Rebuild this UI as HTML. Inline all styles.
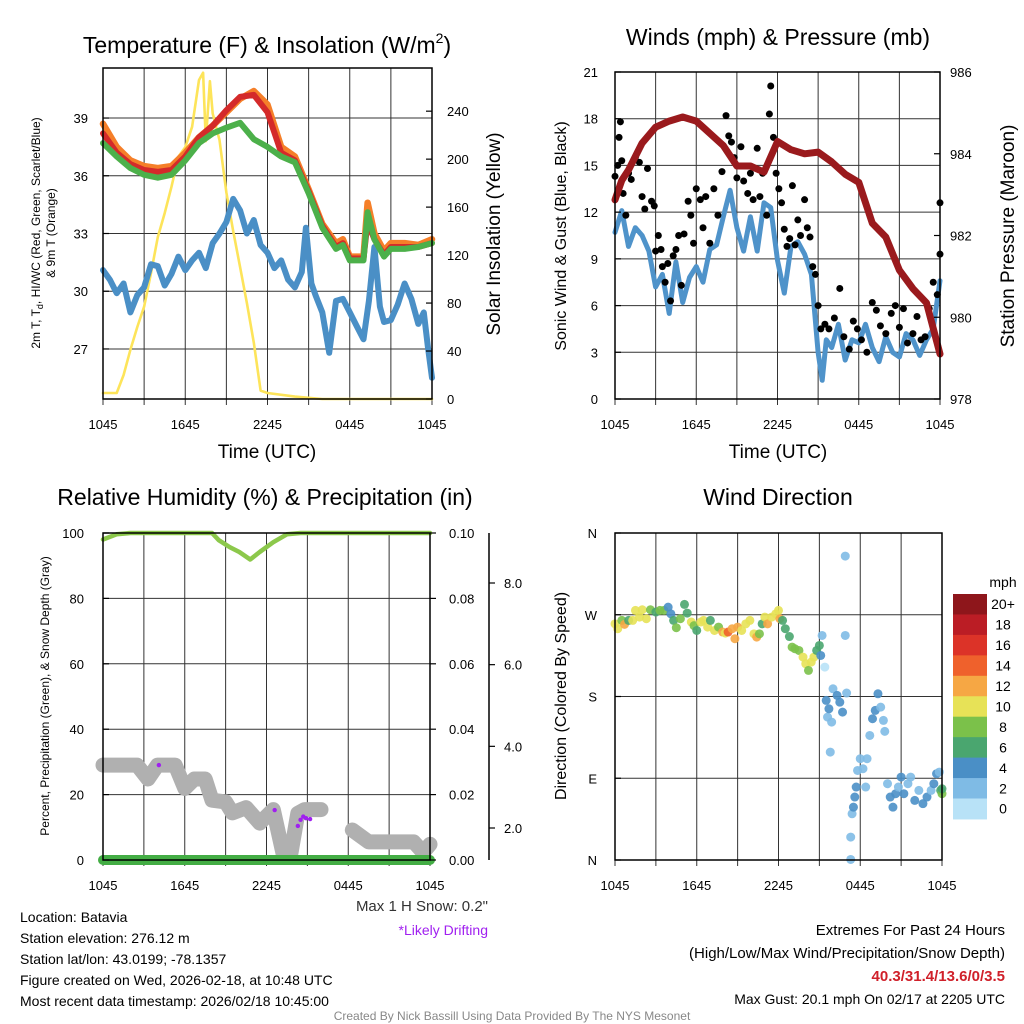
<!DOCTYPE html>
<html><head><meta charset="utf-8"><style>
html,body{margin:0;padding:0;background:#fff}
svg{display:block;font-family:"Liberation Sans",Arial,sans-serif}
</style></head><body>
<svg id="c" width="1024" height="1024" viewBox="0 0 1024 1024" xmlns="http://www.w3.org/2000/svg">
<rect width="1024" height="1024" fill="#fff"/>
<text x="267" y="53" font-size="23" text-anchor="middle">Temperature (F) &amp; Insolation (W/m<tspan font-size="14" dy="-10">2</tspan><tspan dy="10">)</tspan></text>
<text x="778" y="45" font-size="23" text-anchor="middle">Winds (mph) &amp; Pressure (mb)</text>
<text x="265" y="505" font-size="23" text-anchor="middle">Relative Humidity (%) &amp; Precipitation (in)</text>
<text x="778" y="505" font-size="23" text-anchor="middle">Wind Direction</text>
<text x="267" y="458" font-size="19" text-anchor="middle">Time (UTC)</text>
<text x="778" y="458" font-size="19" text-anchor="middle">Time (UTC)</text>
<text transform="translate(40,233) rotate(-90)" font-size="12" text-anchor="middle">2m T, T<tspan font-size="9" dy="3">d</tspan><tspan dy="-3">, HI/WC (Red, Green, Scarlet/Blue)</tspan></text>
<text transform="translate(55,233) rotate(-90)" font-size="12" text-anchor="middle">&amp; 9m T (Orange)</text>
<text transform="translate(500,234) rotate(-90)" font-size="19" text-anchor="middle">Solar Insolation (Yellow)</text>
<text transform="translate(566,236) rotate(-90)" font-size="16" text-anchor="middle">Sonic Wind &amp; Gust (Blue, Black)</text>
<text transform="translate(1014,236) rotate(-90)" font-size="19" text-anchor="middle">Station Pressure (Maroon)</text>
<text transform="translate(49,696) rotate(-90)" font-size="12" text-anchor="middle">Percent, Precipitation (Green), &amp; Snow Depth (Gray)</text>
<text transform="translate(566,696) rotate(-90)" font-size="16" text-anchor="middle">Direction (Colored By Speed)</text>
<text x="488" y="911" font-size="15" text-anchor="end" fill="#333">Max 1 H Snow: 0.2"</text>
<text x="488" y="935" font-size="14" text-anchor="end" fill="#a020f0">*Likely Drifting</text>
<g font-size="14" fill="#000">
<text x="20" y="922">Location: Batavia</text>
<text x="20" y="943">Station elevation: 276.12 m</text>
<text x="20" y="964">Station lat/lon: 43.0199; -78.1357</text>
<text x="20" y="985">Figure created on Wed, 2026-02-18, at 10:48 UTC</text>
<text x="20" y="1006">Most recent data timestamp: 2026/02/18 10:45:00</text>
</g>
<g font-size="15" text-anchor="end">
<text x="1005" y="935">Extremes For Past 24 Hours</text>
<text x="1005" y="958">(High/Low/Max Wind/Precipitation/Snow Depth)</text>
<text x="1005" y="981" fill="#d0202a" font-weight="bold">40.3/31.4/13.6/0/3.5</text>
<text x="1005" y="1004" font-size="14">Max Gust: 20.1 mph On 02/17 at 2205 UTC</text>
</g>
<text x="512" y="1020" font-size="12" fill="#888" text-anchor="middle">Created By Nick Bassill Using Data Provided By The NYS Mesonet</text>
<text x="1003" y="587" font-size="14" text-anchor="middle">mph</text>
</svg>
<script>
const xTickLabels = ["1045","1645","2245","0445","1045"];
const tTimes = [0,1,2,3,4,5,6,7,8,9,10,11,12,13,14,15,16,17,17.5,18,19,19.3,19.8,20.5,21,22,23,24];
const tempRed = [38.2,37.2,36.6,36.3,36.2,36.3,37.0,38.0,38.6,39.4,40.1,40.2,39.3,37.2,36.8,35.2,33.4,32.3,32.5,31.7,31.7,33.6,32.7,31.9,32.3,32.3,32.3,32.5];
const tempOrange = [38.7,37.5,36.8,36.5,36.4,36.5,37.2,38.0,38.6,39.3,40.0,40.4,39.7,37.5,37.0,35.3,33.5,32.5,32.7,31.8,31.8,34.6,33.0,32.1,32.5,32.5,32.4,32.7];
const tempGreen = [37.7,37.0,36.4,36.05,35.9,36.05,36.8,37.7,38.2,38.5,38.75,37.9,37.5,37.0,36.7,35.1,33.3,32.2,32.4,31.6,31.6,34.1,32.7,31.8,32.2,32.2,32.3,32.5];
const dewTimes = [0,0.5,1,1.5,2,2.5,3,3.5,4,4.5,5,5.5,6,6.5,7,7.5,8,8.5,9,9.5,10,10.5,11,11.5,12,12.5,13,13.5,14,14.5,14.8,15.2,15.5,16,16.5,17,17.5,18,18.5,19,19.4,19.8,20.2,20.5,21,21.5,22,22.5,23,23.4,23.7,24];
const dewpoint = [31.1,30.6,29.9,30.4,28.9,29.8,30.2,31.4,31.3,30.3,30.9,31.8,31.1,31.6,32.0,31.2,32.5,33.0,33.6,34.8,34.2,33.0,33.7,32.4,32.0,31.2,31.6,30.6,30.2,31.0,33.3,30.4,29.8,28.9,26.8,29.5,29.6,28.9,28.2,27.5,29.5,32.3,29.2,28.4,28.5,29.3,30.4,29.6,28.3,28.9,27.1,25.5];
const solarTimes = [0,1,1.5,2,2.5,3,3.5,4,4.5,5,5.5,6,6.5,7,7.3,7.5,7.8,8,8.5,9,9.5,10,10.5,11,11.5,12,14,16,20,24];
const solarValues = [5,5,20,41,60,77,105,135,155,177,202,210,227,266,272,215,265,238,216,172,140,110,80,47,7,5,2,0,0,0];
const windTimes = [0,0.5,1,1.5,2,2.5,3,3.5,4,4.5,5,5.5,6,6.5,7,7.5,8,8.5,9,9.5,10,10.5,11,11.5,12,12.5,13,13.5,14,14.5,15,15.3,15.6,16,16.5,17,17.5,18,18.5,19,19.5,20,20.5,21,21.5,22,22.5,23,23.5,24];
const windSpeed = [10.7,12.1,9.8,11.0,10.5,9.5,7.2,8.0,5.5,8.8,6.2,7.8,8.5,7.5,9.6,9.9,11.7,13.4,11.0,9.5,11.7,9.5,12.6,12.3,8.9,6.8,9.8,10.1,9.3,8.0,3.0,1.2,3.8,3.3,4.8,2.5,3.8,3.6,4.8,3.3,2.4,4.0,3.0,2.7,4.2,3.8,2.8,3.8,4.5,7.6];
const pressTimes = [0,0.5,1,2,3,4,5,6,7,8,9,10,11,12,13,14,15,16,17,18,19,20,21,22,23,24];
const pressure = [982.87,983.35,983.6,984.26,984.65,984.8,984.9,984.8,984.5,984.2,983.7,983.7,983.55,984.3,984.1,984.0,984.04,983.8,983.5,983.3,982.3,981.96,981.15,980.7,980.35,979.1];
const gustTimes = [0.0,0.2,0.3,0.4,0.5,0.6,0.8,1.0,1.2,1.5,1.8,2.0,2.2,2.4,2.7,2.9,3.0,3.2,3.4,3.5,3.7,3.9,4.1,4.3,4.5,4.7,4.9,5.1,5.4,5.6,5.8,6.0,6.3,6.5,6.7,7.0,7.3,7.6,7.9,8.2,8.4,8.6,8.8,9.0,9.3,9.5,9.8,10.0,10.2,10.5,10.7,10.9,11.2,11.4,11.5,11.7,11.9,12.1,12.3,12.5,12.7,12.9,13.1,13.3,13.5,13.7,14.0,14.2,14.4,14.6,14.8,15.0,15.2,15.5,15.8,16.2,16.6,16.9,17.3,17.6,17.9,18.2,18.6,19.0,19.3,19.6,20.0,20.4,20.7,21.0,21.3,21.6,22.0,22.3,22.6,22.9,23.2,23.5,23.8,24.0,24.0];
const gustSpeed = [14.3,15.0,16.8,17.8,15.3,13.2,11.8,14.5,14.1,15.5,15.2,13.0,12.2,14.8,12.7,12.4,9.5,10.5,9.6,8.5,7.5,8.7,6.3,9.2,9.6,10.5,7.3,10.6,12.7,11.8,10.0,13.5,12.8,11.0,13.0,10.0,13.5,11.8,14.6,18.2,16.9,16.5,15.5,14.2,16.2,14.0,13.2,14.5,12.8,16.1,13.0,14.5,11.8,18.3,20.1,16.8,14.5,13.5,12.6,10.9,9.8,10.3,13.7,9.9,11.5,10.5,12.8,11.0,10.4,8.5,8.0,6.0,4.5,4.8,4.5,5.2,7.1,4.0,3.2,5.0,4.5,3.8,3.0,6.2,5.7,4.7,4.2,5.5,6.0,4.6,5.8,3.6,4.2,5.3,3.8,4.0,5.8,7.5,6.7,9.3,12.6];
const rhTimes = [0,1,2,4,6,8,8.5,9.3,10,10.8,11.5,12.5,13.5,14.5,16,20,24];
const rhValues = [98,99.6,100,100,100,100,97.8,95.7,94.2,91.9,94.2,97.2,99.6,100,100,100,100];
const precipTimes = [0,24];
const precipValues = [0,0];
const snowTimes = [0,2.5,3.3,4,5.3,6,6.7,7.5,8,9,9.5,10.5,11.5,12.5,13.2,13.8,14.3,14.8,16,null,18.3,19.5,21,22.8,23.5,24];
const snowDepth = [3.54,3.54,3.2,3.54,3.54,2.97,3.2,3.2,2.68,2.64,2.37,2.5,2.12,2.45,1.39,1.39,2.36,2.45,2.45,null,1.95,1.66,1.66,1.66,1.4,1.6];
const driftTimes = [4.1,12.6,14.3,14.5,14.7,14.9,15.2];
const driftDepth = [3.54,2.44,2.05,2.2,2.28,2.24,2.22];
const dirTimes = [0,0.2,0.5,0.7,1,1.3,1.5,1.8,2,2.3,2.6,3,3.3,3.6,3.9,4.1,4.3,4.5,4.8,5.1,5.3,5.6,5.8,6,6.3,6.5,6.8,7,7.3,7.6,7.9,8.1,8.3,8.6,8.8,9,9.3,9.6,9.9,10.2,10.4,10.6,10.8,11,11.2,11.5,11.8,12,12.1,12.3,12.5,12.8,13,13.2,13.5,13.8,14,14.2,14.4,14.6,14.8,15,15.1,15.2,15.4,15.5,15.6,15.7,15.9,15.8,16,16.3,16.5,16.7,17,16.9,16.9,17.3,17.3,17.4,17.5,17.6,17.7,17.8,18,18.2,18.4,18.5,18.7,18.9,19.1,19.3,19.5,19.7,19.8,20,20.2,20.4,20.6,20.8,21,21.2,21.5,21.7,22,22.3,22.6,22.9,23.2,23.4,23.6,23.8,23.9,24,24];
const dirDegrees = [260,254.6,263.8,259.4,263.8,263.8,274.8,267.4,275.5,265.6,275.5,273,274.8,274.8,278.4,271,263.8,255.7,265.6,281.4,271.8,262,258,252.7,262,263.8,256.4,263.8,252.7,256.4,251,249.8,251,254.6,243.6,256.4,252.7,260,263.8,249,245.4,249,260,267.4,260,267.4,271,274.8,265.6,263.8,254.6,246,234.4,232.6,230.7,223.4,216,208.7,217.9,223.4,230.7,236.2,225.2,247.2,212.4,175.7,157.3,166.5,151.8,118.8,188.5,181.2,173.8,162.8,183.8,334.6,247.2,0.6,25.2,50.9,58.2,69.3,80.3,98.6,111.5,100.5,80.3,111.5,137.1,155.5,164.7,183,168.3,153.7,141.6,84,69.3,58.2,73,80.3,91.3,73,84,91.3,65.6,76.6,62,69.3,76.6,84,95,96.8,76.6,73,78.4];
const dirSpeed = [10,10,8,12,6,10,10,10,10,10,8,6,8,8,4,4,6,8,8,6,6,10,8,6,10,10,10,6,10,8,12,10,14,12,12,12,10,10,10,10,12,8,6,10,12,10,10,10,12,6,6,6,8,8,8,10,10,8,10,10,6,6,4,2,0,4,2,4,2,2,2,4,4,4,2,2,2,2,2,2,4,4,4,2,2,2,2,2,2,4,4,4,2,2,2,2,4,4,4,2,4,4,2,2,4,2,4,4,2,4,4,2,6,8,6];
const cbLabels = ["20+","18","16","14","12","10","8","6","4","2","0"];
const cbColors = ["#8e161b","#bb1d25","#dc3328","#ef612c","#f6a744","#e7e257","#7bc14a","#4aa66f","#4a8fc6","#7fbbe5","#b8e2f7"];

const NS = "http://www.w3.org/2000/svg";
const svg = document.getElementById("c");
function mk(tag, attrs, parent){
  const e = document.createElementNS(NS, tag);
  for (const k in attrs) e.setAttribute(k, attrs[k]);
  (parent||svg).appendChild(e);
  return e;
}
function lin(d0,d1,r0,r1){ return v => r0 + (v-d0)*(r1-r0)/(d1-d0); }
function pathFrom(xs, ys, fx, fy){
  let d = "", pen = false;
  for (let i=0;i<xs.length;i++){
    if (xs[i]===null || ys[i]===null){ pen=false; continue; }
    d += (pen?"L":"M") + fx(xs[i]).toFixed(1) + "," + fy(ys[i]).toFixed(1);
    pen = true;
  }
  return d;
}
function frame(x0,y0,x1,y1,name){
  const r = mk("rect",{x:x0,y:y0,width:x1-x0,height:y1-y0,fill:"none",stroke:"#000","stroke-width":1.5});
  
  
}
function vgrid(fx,y0,y1,name){
  const g = mk("g",{stroke:"#333","stroke-width":1});
  
  
  for (let h=3; h<24; h+=3){
    const x = fx(h);
    mk("line",{x1:x,y1:y0,x2:x,y2:y1},g);
  }
  for (let h=0; h<=24; h+=3){
    const x = fx(h);
    mk("line",{x1:x,y1:y1,x2:x,y2:y1+6},g);
  }
}
function hgrid(vals,fy,x0,x1,name){
  const g = mk("g",{stroke:"#333","stroke-width":1});
  
  
  vals.forEach(v=>{ const y=fy(v); mk("line",{x1:x0,y1:y,x2:x1,y2:y},g); });
}
function xLabels(fx,y,name){
  const g = mk("g",{"font-size":13,"text-anchor":"middle"});
  
  
  xTickLabels.forEach((l,i)=>{ const t=mk("text",{x:fx(i*6),y:y},g); t.textContent=l; });
}
function yLabels(vals,labels,fy,x,anchor,name,tickX,tickDir){
  const g = mk("g",{"font-size":13,"text-anchor":anchor});
  
  
  vals.forEach((v,i)=>{
    const t=mk("text",{x:x,y:fy(v)+5},g); t.textContent=labels[i];
    if (tickX!==undefined) mk("line",{x1:tickX,y1:fy(v),x2:tickX+tickDir,y2:fy(v),stroke:"#000","stroke-width":1.2},g);
  });
}
function drawLine(xs,ys,fx,fy,color,w,name){
  const p = mk("path",{d:pathFrom(xs,ys,fx,fy),fill:"none",stroke:color,"stroke-width":w,"stroke-linejoin":"round","stroke-linecap":"round"});
  
  
}

{
  const X0=103,X1=432,Y0=68,Y1=399;
  const fx = lin(0,24,X0,X1);
  const fy = lin(24.4,41.6,Y1,Y0);
  const fs = lin(0,276,Y1,Y0);
  hgrid([27,30,33,36,39],fy,X0,X1,"temp-h-grid");
  vgrid(fx,Y0,Y1,"temp-v-grid");
  drawLine(solarTimes,solarValues,fx,fs,"#fde45a",2.6,"solar-line");
  drawLine(dewTimes,dewpoint,fx,fy,"#4a8fc6",6,"dewpoint-line");
  drawLine(tTimes,tempOrange,fx,fy,"#f57f29",6.5,"temp-9m-line");
  drawLine(tTimes,tempRed,fx,fy,"#d42a2a",6,"temp-2m-line");
  drawLine(tTimes,tempGreen,fx,fy,"#4cb04a",6,"hi-wc-line");
  frame(X0,Y0,X1,Y1,"temp-plot-frame");
  yLabels([27,30,33,36,39],["27","30","33","36","39"],fy,88,"end","temp-y-ticks",X0,6);
  yLabels([0,40,80,120,160,200,240],["0","40","80","120","160","200","240"],fs,447,"start","solar-y-ticks",X1,-6);
  xLabels(fx,429,"temp-x-ticks");
}

{
  const X0=615,X1=940,Y0=72,Y1=399;
  const fx = lin(0,24,X0,X1);
  const fy = lin(0,21,Y1,Y0);
  const fp = lin(978,986,Y1,Y0);
  hgrid([3,6,9,12,15,18],fy,X0,X1,"wind-h-grid");
  vgrid(fx,Y0,Y1,"wind-v-grid");
  drawLine(windTimes,windSpeed,fx,fy,"#4f93ca",5,"sonic-wind-line");
  const g = mk("g",{fill:"#000"});
  
  
  for (let i=0;i<gustTimes.length;i++){
    const c = mk("circle",{cx:fx(gustTimes[i]),cy:fy(gustSpeed[i]),r:3.5},g);
    
    
  }
  drawLine(pressTimes,pressure,fx,fp,"#9a1a1d",7,"pressure-line");
  frame(X0,Y0,X1,Y1,"wind-plot-frame");
  yLabels([0,3,6,9,12,15,18,21],["0","3","6","9","12","15","18","21"],fy,598,"end","wind-y-ticks",X0,6);
  yLabels([978,980,982,984,986],["978","980","982","984","986"],fp,950,"start","pressure-y-ticks",X1,-6);
  xLabels(fx,429,"wind-x-ticks");
}

{
  const X0=103,X1=430,Y0=533,Y1=860;
  const fx = lin(0,24,X0,X1);
  const fy = lin(0,100,Y1,Y0);
  const fpr = lin(0,0.1,Y1,Y0);
  const fsn = lin(2,8,828,583);
  hgrid([20,40,60,80],fy,X0,X1,"rh-h-grid");
  vgrid(fx,Y0,Y1,"rh-v-grid");
  drawLine(snowTimes,snowDepth,fx,fsn,"#b0b0b0",15,"snow-depth-line");
  const g = mk("g",{fill:"#a020f0"});
  
  
  for (let i=0;i<driftTimes.length;i++){
    const c = mk("circle",{cx:fx(driftTimes[i]),cy:fsn(driftDepth[i]),r:2.2},g);
    
    
  }
  drawLine(rhTimes,rhValues,fx,fy,"#8cc84b",4.5,"rh-line");
  drawLine(precipTimes,precipValues,fx,fpr,"#43ad44",10,"precip-line");
  frame(X0,Y0,X1,Y1,"rh-plot-frame");
  yLabels([0,20,40,60,80,100],["0","20","40","60","80","100"],fy,84,"end","rh-y-ticks",X0,6);
  yLabels([0,0.02,0.04,0.06,0.08,0.1],["0.00","0.02","0.04","0.06","0.08","0.10"],fpr,449,"start","precip-y-ticks",X1,6);
  const sa = mk("line",{x1:489,y1:533,x2:489,y2:860,stroke:"#000","stroke-width":1.5});
  
  
  yLabels([2,4,6,8],["2.0","4.0","6.0","8.0"],fsn,504,"start","snow-y-ticks",489,6);
  xLabels(fx,890,"rh-x-ticks");
}

{
  const X0=615,X1=942,Y0=533,Y1=860;
  const fx = lin(0,24,X0,X1);
  const fy = lin(0,360,Y1,Y0);
  hgrid([90,180,270],fy,X0,X1,"dir-h-grid");
  vgrid(fx,Y0,Y1,"dir-v-grid");
  const g = mk("g",{"fill-opacity":0.9});
  
  
  for (let i=0;i<dirTimes.length;i++){
    const idx = Math.min(10, Math.round(dirSpeed[i]/2));
    const c = mk("circle",{cx:fx(dirTimes[i]),cy:fy(dirDegrees[i]),r:4.5,fill:cbColors[10-idx]},g);
    
    
  }
  frame(X0,Y0,X1,Y1,"dir-plot-frame");
  yLabels([0,90,180,270,360],["N","E","S","W","N"],fy,597,"end","dir-y-ticks",X0,6);
  xLabels(fx,890,"dir-x-ticks");
  const cb = mk("g",{});
  
  
  const top=594, h=20.45;
  cbColors.forEach((col,i)=>{
    const r = mk("rect",{x:953,y:top+i*h,width:34,height:h+0.5,fill:col},cb);
    
    
    const t = mk("text",{x:1003,y:top+i*h+h/2+5,"font-size":14,"text-anchor":"middle"},cb);
    
    
    t.textContent = cbLabels[i];
  });
}
</script>
</body></html>
